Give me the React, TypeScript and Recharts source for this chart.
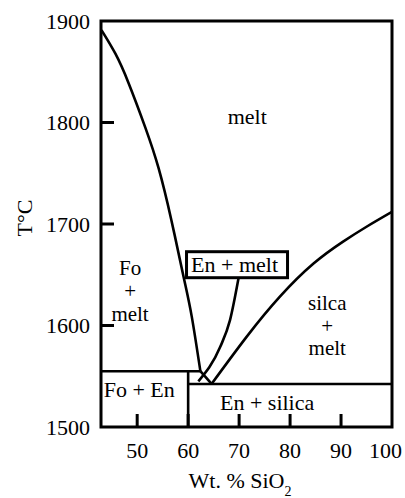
import { LineChart, Line, XAxis, YAxis, ReferenceArea, ReferenceDot, Label } from "recharts";

const X_MIN = 42.9;
const X_MAX = 100;
const T_MIN = 1500;
const T_MAX = 1900;

const xTicks = [50, 60, 70, 80, 90, 100];
const tTicks = [1500, 1600, 1700, 1800, 1900];

// forsterite liquidus, down to the peritectic
const foLiqX = [43.0, 45.7, 48.3, 51.6, 54.2, 56.7, 59.1, 60.7, 62.4];
const foLiqT = [1891, 1868, 1839, 1795, 1755, 1704, 1648, 1609, 1555];

// enstatite liquidus (runs up under the "En + melt" box)
const enLiqX = [62.0, 66.3, 68.2, 69.9];
const enLiqT = [1545, 1579, 1605, 1647];

// peritectic -> eutectic
const perEutX = [62.4, 64.6];
const perEutT = [1555, 1542.4];

// silica liquidus
const siLiqX = [64.6, 71.5, 78.0, 84.6, 90.4, 95.0, 100];
const siLiqT = [1542.4, 1589, 1628.4, 1661, 1682.6, 1697.3, 1712];

// solidus lines
const periX = [X_MIN, 62.4];
const periT = [1555, 1555];
const enX = [60, 60];
const enT = [T_MIN, 1555];
const eutX = [60, X_MAX];
const eutT = [1542.4, 1542.4];

const pts = (xs: number[], ts: number[]) => xs.map((x, i) => ({ x, t: ts[i] }));

const FONT = "Liberation Serif";
const FS = 22;

const fieldLabels = [
  { lines: ["melt"], x: 71.6, t: 1798.5, gap: 22 },
  { lines: ["Fo", "+", "melt"], x: 48.6, t: 1650, gap: 23 },
  { lines: ["silca", "+", "melt"], x: 87.3, t: 1615, gap: 22.5 },
  { lines: ["Fo + En"], x: 50.4, t: 1530, gap: 22 },
  { lines: ["En + silica"], x: 75.5, t: 1516.5, gap: 22 },
];

const YTick = ({ x, y, payload }: any) => (
  <g>
    <text x={x - 11} y={y + 7.5} textAnchor="end" fontFamily={FONT} fontSize={FS} fill="#000">
      {payload.value}
    </text>
    {payload.value > T_MIN && payload.value < T_MAX && (
      <line x1={x} x2={x + 13} y1={y} y2={y} stroke="#000" strokeWidth={3} />
    )}
  </g>
);

const XTick = ({ x, y, payload }: any) => {
  const last = payload.value === X_MAX;
  return (
    <g>
      <text
        x={last ? x + 10 : x}
        y={y + 31}
        textAnchor={last ? "end" : "middle"}
        fontFamily={FONT}
        fontSize={FS}
        fill="#000"
      >
        {payload.value}
      </text>
      {payload.value > X_MIN && payload.value < X_MAX && (
        <line x1={x} x2={x} y1={y} y2={y - 13} stroke="#000" strokeWidth={3} />
      )}
    </g>
  );
};

const fieldText = (lines: string[], gap: number) => (props: any) => {
  const vb = props.viewBox;
  const cx = vb.x + vb.width / 2;
  const cy = vb.y + vb.height / 2;
  const fs = lines.length > 1 ? 21 : FS;
  return (
    <g>
      {lines.map((s, i) => (
        <text key={i} x={cx} y={cy + i * gap} textAnchor="middle" fontFamily={FONT} fontSize={fs} fill="#000">
          {s}
        </text>
      ))}
    </g>
  );
};

const boxedText = (props: any) => {
  const vb = props.viewBox;
  const cx = vb.x + vb.width / 2;
  const cy = vb.y + vb.height / 2;
  return (
    <g>
      <rect x={cx - 48} y={cy - 20} width={101} height={26} fill="#fff" stroke="#000" strokeWidth={3} />
      <text x={cx} y={cy} textAnchor="middle" fontFamily={FONT} fontSize={FS} fill="#000">
        En + melt
      </text>
    </g>
  );
};

const lineProps = {
  dataKey: "t",
  stroke: "#000",
  strokeWidth: 2.6,
  dot: false,
  activeDot: false,
  isAnimationActive: false,
  legendType: "none" as const,
};

export default function App() {
  return (
    <div style={{ position: "absolute", left: 0, top: 0, background: "#fff", fontFamily: FONT }}>
      <LineChart width={405} height={498} margin={{ top: 21, right: 13, bottom: 0, left: 0 }}>
        <XAxis
          type="number"
          dataKey="x"
          domain={[X_MIN, X_MAX]}
          ticks={xTicks}
          allowDataOverflow
          height={71}
          tickSize={0}
          tickMargin={0}
          axisLine={false}
          tick={<XTick />}
        >
          <Label
            content={() => (
              <text x={240} y={488} textAnchor="middle" fontFamily={FONT} fontSize={FS} fill="#000">
                Wt. % SiO
                <tspan fontSize={14} dy={8}>
                  2
                </tspan>
              </text>
            )}
          />
        </XAxis>
        <YAxis
          type="number"
          domain={[T_MIN, T_MAX]}
          ticks={tTicks}
          allowDataOverflow
          width={101}
          tickSize={0}
          tickMargin={0}
          axisLine={false}
          tick={<YTick />}
        >
          <Label
            content={() => (
              <text
                x={32}
                y={218}
                transform="rotate(-90, 32, 218)"
                textAnchor="middle"
                fontFamily={FONT}
                fontSize={FS}
                fill="#000"
              >
                T°C
              </text>
            )}
          />
        </YAxis>

        <Line {...lineProps} data={pts(periX, periT)} type="linear" />
        <Line {...lineProps} data={pts(enX, enT)} type="linear" />
        <Line {...lineProps} data={pts(eutX, eutT)} type="linear" />
        <Line {...lineProps} data={pts(perEutX, perEutT)} type="linear" />
        <Line {...lineProps} data={pts(foLiqX, foLiqT)} type="natural" />
        <Line {...lineProps} data={pts(enLiqX, enLiqT)} type="monotone" />
        <Line {...lineProps} data={pts(siLiqX, siLiqT)} type="natural" />

        <ReferenceArea x1={X_MIN} x2={X_MAX} y1={T_MIN} y2={T_MAX} fill="none" stroke="#000" strokeWidth={3} />

        {fieldLabels.map((f, i) => (
          <ReferenceDot key={i} x={f.x} y={f.t} r={1} fill="none" stroke="none" label={{ content: fieldText(f.lines, f.gap) }} />
        ))}
        <ReferenceDot x={69.1} y={1653} r={1} fill="none" stroke="none" label={{ content: boxedText }} />
      </LineChart>
    </div>
  );
}
